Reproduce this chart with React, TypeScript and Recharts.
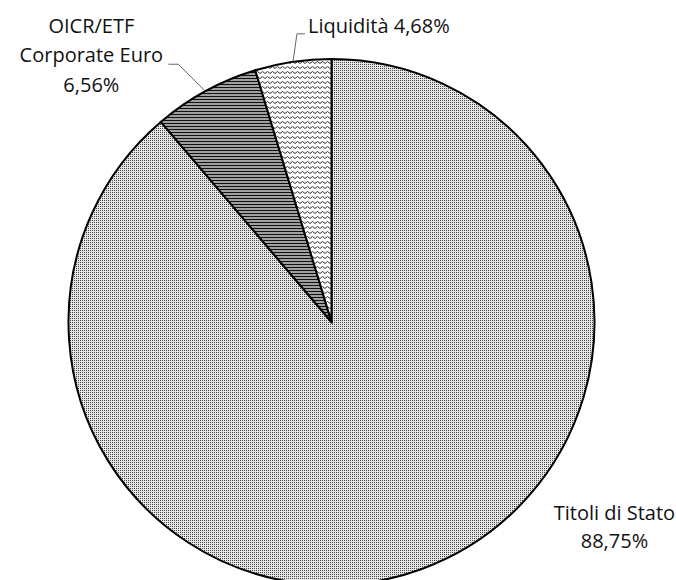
import React from "react";
import { PieChart, Pie, Cell } from "recharts";

const categories = ["Titoli di Stato", "OICR/ETF Corporate Euro", "Liquidità"];
const values = [88.75, 6.56, 4.68];
const valueLabels = ["88,75%", "6,56%", "4,68%"];
const patterns = ["pDots", "pLines", "pWaves"];

const data = categories.map((name, i) => ({ name, value: values[i], label: valueLabels[i] }));

const FONT = "'Open Sans', sans-serif";
const RAD = Math.PI / 180;

const renderLabel = (props: any) => {
  const { cx, cy, midAngle, outerRadius, index } = props;
  const ex = cx + outerRadius * Math.cos(-midAngle * RAD);
  const ey = cy + outerRadius * Math.sin(-midAngle * RAD);
  const common = { fontFamily: FONT, fontSize: 20, fill: "#111" };
  if (index === 0) {
    const tx = ex + 192;
    return (
      <g>
        <text x={tx} y={ey - 49} textAnchor="middle" {...common}>Titoli di Stato</text>
        <text x={tx} y={ey - 21} textAnchor="middle" {...common}>{valueLabels[0]}</text>
      </g>
    );
  }
  if (index === 1) {
    const bx = ex - 27;
    const by = ey - 27;
    const tx = ex - 114;
    return (
      <g>
        <polyline points={`${ex},${ey} ${bx},${by} ${bx - 10},${by}`} fill="none" stroke="#666" strokeWidth={1} />
        <text x={tx} y={ey - 58} textAnchor="middle" {...common}>OICR/ETF</text>
        <text x={tx} y={ey - 29} textAnchor="middle" {...common}>Corporate Euro</text>
        <text x={tx} y={ey + 1} textAnchor="middle" {...common}>{valueLabels[1]}</text>
      </g>
    );
  }
  const bx = ex + 4;
  const by = ey - 28;
  return (
    <g>
      <polyline points={`${ex},${ey} ${bx},${by} ${bx + 8},${by}`} fill="none" stroke="#666" strokeWidth={1} />
      <text x={ex + 15} y={ey - 29} textAnchor="start" {...common}>{`Liquidità ${valueLabels[2]}`}</text>
    </g>
  );
};

export default function App() {
  return (
    <div style={{ position: "fixed", left: 0, top: 0, width: 676, height: 580, overflow: "hidden", background: "#fff" }}>
      <PieChart width={676} height={600}>
        <defs>
          <pattern id="pDots" width={2} height={2} patternUnits="userSpaceOnUse">
            <rect width={2} height={2} fill="#e6e6e6" />
            <rect width={1} height={1} fill="#444" />
          </pattern>
          <pattern id="pLines" width={3} height={3} patternUnits="userSpaceOnUse">
            <rect width={3} height={3} fill="#a0a0a0" />
            <rect width={3} height={1} fill="#111" />
          </pattern>
          <pattern id="pWaves" width={5} height={5} patternUnits="userSpaceOnUse">
            <rect width={5} height={5} fill="#fff" />
            <polyline points="0,3.5 2.5,1.5 5,3.5" fill="none" stroke="#333" strokeWidth={1} />
          </pattern>
        </defs>
        <Pie
          data={data}
          dataKey="value"
          nameKey="name"
          cx={326.5}
          cy={317}
          outerRadius={263}
          startAngle={90}
          endAngle={-270}
          stroke="#000"
          strokeWidth={2}
          label={renderLabel}
          labelLine={false}
          isAnimationActive={false}
        >
          {data.map((d, i) => (
            <Cell key={d.name} fill={`url(#${patterns[i]})`} />
          ))}
        </Pie>
      </PieChart>
    </div>
  );
}
